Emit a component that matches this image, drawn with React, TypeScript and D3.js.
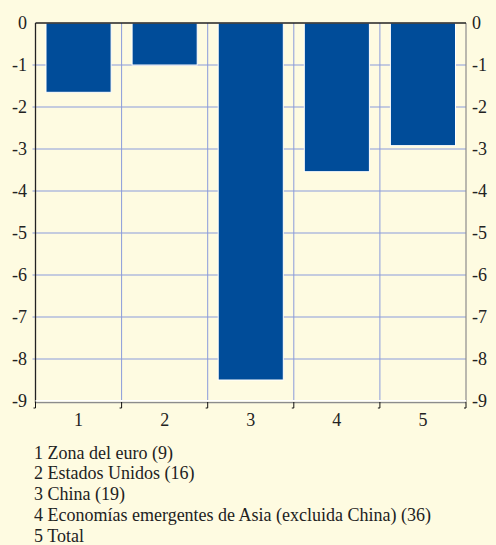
import React from "react";
import * as d3 from "d3";

const categories = ["1", "2", "3", "4", "5"];
const values = [-1.65, -1.0, -8.5, -3.54, -2.92];
const yTicks = [0, -1, -2, -3, -4, -5, -6, -7, -8, -9];
const legendLines = [
  "1 Zona del euro (9)",
  "2 Estados Unidos (16)",
  "3 China (19)",
  "4 Economías emergentes de Asia (excluida China) (36)",
  "5 Total",
];

const W = 496;
const H = 545;
const left = 35.5;
const right = 466;
const top = 23;
const bottom = 401;
const BG = "#FEFBE1";
const BAR = "#004C99";
const GRID = "#8A9BDB";
const txt = { fontFamily: "Liberation Serif", fontSize: 18, fill: "#222" } as React.CSSProperties;

export default function App() {
  const x = d3.scaleBand<string>().domain(categories).range([left, right]).paddingInner(0).paddingOuter(0);
  const y = d3.scaleLinear().domain([0, -9]).range([top, bottom]);
  const bw = x.bandwidth();
  const pad = 10.5;
  const bounds = [...categories.map((c) => x(c) as number), right];

  return (
    <svg width={W} height={H} style={{ position: "absolute", left: 0, top: 0, display: "block" }}>
      <rect x={0} y={0} width={W} height={H} fill={BG} />
      {yTicks.filter((t) => t !== 0 && t !== -9).map((t) => (
        <line key={"h" + t} x1={left - 3} x2={right} y1={y(t)} y2={y(t)} stroke={GRID} strokeWidth={1} />
      ))}
      {bounds.slice(1, -1).map((b, i) => (
        <line key={"v" + i} x1={b} x2={b} y1={top} y2={bottom} stroke={GRID} strokeWidth={1} />
      ))}
      {categories.map((c, i) => (
        <rect
          key={c}
          x={(x(c) as number) + pad}
          y={y(0)}
          width={bw - 2 * pad}
          height={y(values[i]) - y(0)}
          fill={BAR}
          stroke="#FFFFFF"
          strokeWidth={1}
        />
      ))}
      <line x1={right} x2={right} y1={top} y2={bottom + 1} stroke="#8C8C8C" strokeWidth={1.2} />
      <line x1={left} x2={right} y1={top} y2={top} stroke="#222" strokeWidth={1.3} />
      <line x1={left} x2={left} y1={top} y2={bottom + 2} stroke="#222" strokeWidth={1.3} />
      <line x1={left} x2={right} y1={bottom + 1.5} y2={bottom + 1.5} stroke="#8C8C8C" strokeWidth={1.5} />
      <line x1={left} x2={right} y1={bottom - 0.3} y2={bottom - 0.3} stroke="#FFFFFF" strokeWidth={1.5} />
      {bounds.map((b, i) => (
        <path key={"t" + i} d={`M${b},${bottom + 1} V${bottom + 7} H${b - 2}`} fill="none" stroke="#111" strokeWidth={1} />
      ))}
      {yTicks.map((t) => (
        <g key={"yl" + t}>
          <text x={27} y={y(t)} dy="0.34em" textAnchor="end" style={txt}>
            {t === 0 ? "0" : `-${Math.abs(t)}`}
          </text>
          <text x={472} y={y(t)} dy="0.34em" textAnchor="start" style={txt}>
            {t === 0 ? "0" : `-${Math.abs(t)}`}
          </text>
        </g>
      ))}
      {categories.map((c) => (
        <text key={"xl" + c} x={(x(c) as number) + bw / 2} y={426} textAnchor="middle" style={txt}>
          {c}
        </text>
      ))}
      {legendLines.map((l, i) => (
        <text key={"lg" + i} x={34} y={458.5 + i * 20.8} style={txt}>
          {l}
        </text>
      ))}
    </svg>
  );
}
